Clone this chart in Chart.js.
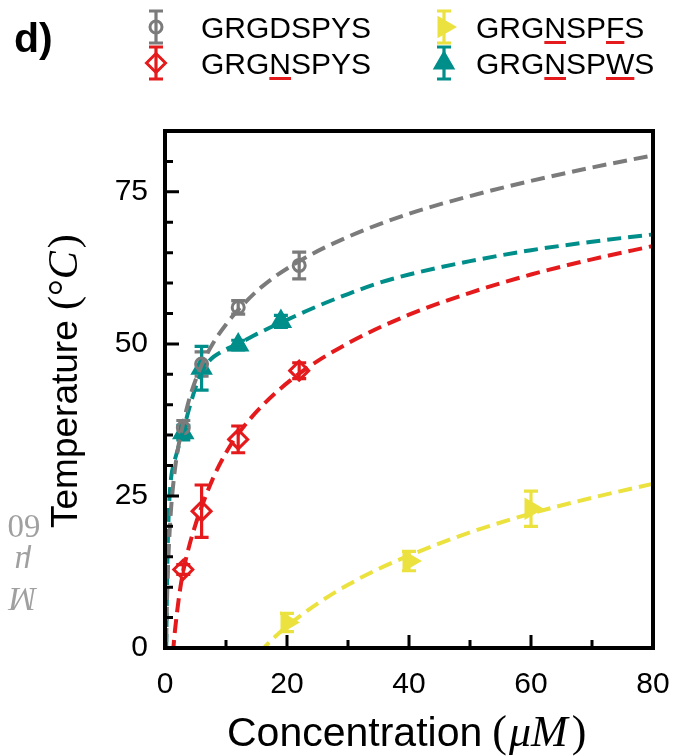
<!DOCTYPE html>
<html>
<head>
<meta charset="utf-8">
<script src="https://cdn.jsdelivr.net/npm/chart.js"></script>
<style>
  body { margin: 0; background: #fff; }
</style>
</head>
<body>
<canvas id="myChart" width="691" height="756"></canvas>
<script>
// measured points: concentration (uM), temperature (C), error bar half-height
const concGRGDSPYS = [3, 6, 12, 22];
const tempGRGDSPYS = [36.2, 46.7, 56.0, 62.9];
const errGRGDSPYS = [1.2, 2.0, 1.1, 2.2];

const concGRGNSPYS = [3, 6, 12, 22];
const tempGRGNSPYS = [12.9, 22.5, 34.3, 45.6];
const errGRGNSPYS = [0.8, 4.3, 2.2, 1.3];

const concGRGNSPFS = [20, 40, 60];
const tempGRGNSPFS = [4.2, 14.3, 22.9];
const errGRGNSPFS = [1.5, 1.6, 2.9];

const concGRGNSPWS = [3, 6, 12, 19];
const tempGRGNSPWS = [35.4, 46.0, 49.8, 53.7];
const errGRGNSPWS = [1.2, 3.6, 0.8, 1.0];

// fitted dashed curves
const fitConcGRGDSPYS = [0.2, 0.3, 0.5, 0.75, 1, 1.5, 2, 3, 4, 6, 8, 10, 12, 16, 22, 30, 40, 50, 60, 70, 80];
const fitTempGRGDSPYS = [1, 6.5, 13.5, 19, 23, 28.3, 32, 37, 41, 46.5, 50.3, 53.2, 55.6, 59.5, 63.6, 67.6, 71.4, 74.3, 76.8, 79, 81];

const fitConcGRGNSPYS = [1.3, 1.5, 2, 2.5, 3, 4, 5, 6, 8, 10, 12, 16, 22, 30, 40, 50, 60, 70, 80];
const fitTempGRGNSPYS = [-1, 1.5, 6.1, 9.8, 12.7, 16.9, 20.3, 23.2, 28.2, 32.1, 35.2, 39.9, 45.1, 50.1, 54.8, 58.4, 61.4, 63.9, 66.1];

const fitConcGRGNSPFS = [15.5, 16.2, 18, 20, 25, 30, 35, 40, 50, 60, 70, 80];
const fitTempGRGNSPFS = [-0.8, 0, 1.8, 3.6, 7.3, 10.4, 13, 15.2, 19, 22.1, 24.7, 27];

const fitConcGRGNSPWS = [0.2, 0.3, 0.45, 0.7, 1, 1.5, 2, 3, 4, 5, 6, 7, 8, 10, 12, 15, 19, 25, 30, 35, 40, 50, 60, 70, 80];
const fitTempGRGNSPWS = [0, 8, 17, 24, 28, 30.5, 32.3, 35.8, 39.5, 42.8, 45.3, 46.9, 47.9, 49.1, 50.0, 51.6, 53.5, 56.2, 58.2, 60, 61.4, 63.6, 65.4, 66.8, 68];

const xTicks = [0, 20, 40, 60, 80];
const yTicks = [0, 25, 50, 75];

const GRAY = '#7b7b7b';
const RED = '#e41a1c';
const YELLOW = '#ece23f';
const TEAL = '#008e8a';
const SANS = '"Liberation Sans", Arial, sans-serif';
const SERIF = '"Liberation Serif", "DejaVu Serif", serif';

const series = [
  { label: 'GRGDSPYS', under: [], color: GRAY, style: 'circle', rot: 0, r: 6, fill: false,
    cx: concGRGDSPYS, ty: tempGRGDSPYS, err: errGRGDSPYS, fx: fitConcGRGDSPYS, fy: fitTempGRGDSPYS },
  { label: 'GRGNSPYS', under: [3], color: RED, style: 'rectRot', rot: 0, r: 9.5, fill: false,
    cx: concGRGNSPYS, ty: tempGRGNSPYS, err: errGRGNSPYS, fx: fitConcGRGNSPYS, fy: fitTempGRGNSPYS },
  { label: 'GRGNSPFS', under: [3, 6], color: YELLOW, style: 'triangle', rot: 90, r: 10, fill: true,
    cx: concGRGNSPFS, ty: tempGRGNSPFS, err: errGRGNSPFS, fx: fitConcGRGNSPFS, fy: fitTempGRGNSPFS },
  { label: 'GRGNSPWS', under: [3, 6], color: TEAL, style: 'triangle', rot: 0, r: 10, fill: true,
    cx: concGRGNSPWS, ty: tempGRGNSPWS, err: errGRGNSPWS, fx: fitConcGRGNSPWS, fy: fitTempGRGNSPWS },
];

const pts = (xs, ys) => xs.map((v, i) => ({ x: v, y: ys[i] }));

const datasets = [];
series.forEach(s => {
  datasets.push({
    data: pts(s.fx, s.fy), showLine: true, pointRadius: 0, borderColor: s.color,
    borderWidth: 4, borderDash: [14, 7], cubicInterpolationMode: 'monotone', fill: false
  });
});
series.forEach(s => {
  datasets.push({
    data: pts(s.cx, s.ty), showLine: false, errors: s.err,
    pointStyle: s.style, rotation: s.rot, pointRadius: s.r, borderWidth: 3,
    borderColor: s.color, backgroundColor: s.fill ? s.color : 'rgba(0,0,0,0)'
  });
});

function errorBar(ctx, x, yTop, yBot, color) {
  ctx.strokeStyle = color;
  ctx.lineWidth = 3.2;
  ctx.beginPath();
  ctx.moveTo(x, yTop); ctx.lineTo(x, yBot);
  ctx.moveTo(x - 7, yTop); ctx.lineTo(x + 7, yTop);
  ctx.moveTo(x - 7, yBot); ctx.lineTo(x + 7, yBot);
  ctx.stroke();
}

const decorations = {
  id: 'decorations',
  beforeDatasetsDraw(chart) {
    const { ctx, scales: { x, y } } = chart;
    ctx.save();
    chart.data.datasets.forEach(ds => {
      if (!ds.errors) return;
      ds.data.forEach((p, j) => {
        const e = ds.errors[j];
        errorBar(ctx, x.getPixelForValue(p.x), y.getPixelForValue(p.y + e), y.getPixelForValue(p.y - e), ds.borderColor);
      });
    });
    ctx.restore();
  },
  afterDraw(chart) {
    const { ctx, chartArea: a, scales: { x, y } } = chart;
    ctx.save();
    // frame
    ctx.strokeStyle = '#000';
    ctx.lineWidth = 4;
    ctx.strokeRect(a.left, a.top, a.right - a.left, a.bottom - a.top);
    // inward ticks
    ctx.lineWidth = 3;
    ctx.beginPath();
    for (let v = 0; v <= 80; v += 10) {
      const px = x.getPixelForValue(v);
      const len = v % 20 === 0 ? 13 : 8;
      ctx.moveTo(px, a.bottom); ctx.lineTo(px, a.bottom - len);
    }
    for (let v = 0; v <= 80; v += 5) {
      const py = y.getPixelForValue(v);
      const len = v % 25 === 0 ? 14 : 8;
      ctx.moveTo(a.left, py); ctx.lineTo(a.left + len, py);
    }
    ctx.stroke();

    // x title
    ctx.fillStyle = '#000';
    ctx.textAlign = 'left';
    ctx.textBaseline = 'alphabetic';
    let cx = 227, by = 746;
    ctx.font = '41px ' + SANS;
    ctx.fillText('Concentration', cx, by);
    cx += ctx.measureText('Concentration').width + 10;
    ctx.font = '44px ' + SERIF;
    ctx.fillText('(', cx, by); cx += ctx.measureText('(').width + 2;
    ctx.font = 'italic 44px ' + SERIF;
    ctx.fillText('μM', cx, by); cx += ctx.measureText('μM').width + 4;
    ctx.font = '44px ' + SERIF;
    ctx.fillText(')', cx, by);

    // y title
    ctx.save();
    ctx.translate(77, 528);
    ctx.rotate(-Math.PI / 2);
    let ty = 0;
    ctx.font = '37px ' + SANS;
    ctx.fillText('Temperature', ty, 0);
    ty += ctx.measureText('Temperature ').width;
    ctx.font = '42px ' + SERIF;
    ctx.fillText('(', ty, 0); ty += ctx.measureText('(').width;
    ctx.fillText('°', ty, 0); ty += ctx.measureText('°').width;
    ctx.font = 'italic 42px ' + SERIF;
    ctx.fillText('C', ty, 0); ty += ctx.measureText('C').width + 3;
    ctx.font = '42px ' + SERIF;
    ctx.fillText(')', ty, 0);
    ctx.restore();

    // faint side note, glyphs upside down
    ctx.fillStyle = '#a0a0a0';
    ctx.textAlign = 'center';
    ctx.textBaseline = 'middle';
    [['60', 24, 524, ''], ['μ', 23, 561, 'italic '], ['M', 23, 597, 'italic ']].forEach(([t, px, py, st]) => {
      ctx.save();
      ctx.translate(px, py);
      ctx.rotate(Math.PI);
      ctx.font = st + '33px ' + SERIF;
      ctx.fillText(t, 0, 0);
      ctx.restore();
    });

    // panel letter
    ctx.fillStyle = '#000';
    ctx.textAlign = 'left';
    ctx.textBaseline = 'alphabetic';
    ctx.font = 'bold 41px ' + SANS;
    ctx.fillText('d)', 14, 52);

    // legend
    const spots = [[156, 201, 27], [156, 201, 63], [444, 476, 27], [444, 476, 63]];
    series.forEach((s, k) => {
      const [ix, tx, cy] = spots[k];
      errorBar(ctx, ix, cy - 16, cy + 16, s.color);
      ctx.strokeStyle = s.color;
      ctx.fillStyle = s.fill ? s.color : 'rgba(0,0,0,0)';
      ctx.lineWidth = 3;
      Chart.helpers.drawPoint(ctx, { pointStyle: s.style, rotation: s.rot, radius: s.r, borderWidth: 3 }, ix, cy);
      ctx.fillStyle = '#000';
      ctx.font = '30px ' + SANS;
      ctx.fillText(s.label, tx, cy + 11);
      ctx.fillStyle = RED;
      s.under.forEach(i => {
        const x0 = tx + ctx.measureText(s.label.slice(0, i)).width;
        const w = ctx.measureText(s.label[i]).width;
        ctx.fillRect(x0, cy + 14, w, 3);
      });
    });
    ctx.restore();
  }
};

new Chart(document.getElementById('myChart'), {
  type: 'scatter',
  data: { datasets: datasets },
  options: {
    responsive: false,
    animation: false,
    layout: { padding: { left: 0, right: 38, top: 131, bottom: 0 } },
    plugins: { legend: { display: false }, tooltip: { enabled: false } },
    scales: {
      x: {
        type: 'linear', min: 0, max: 80,
        afterFit: s => { s.height = 108; },
        afterBuildTicks: s => { s.ticks = xTicks.map(v => ({ value: v })); },
        grid: { display: false, drawTicks: false },
        border: { display: false },
        ticks: { padding: 19, color: '#000', maxRotation: 0, font: { family: SANS, size: 30 } }
      },
      y: {
        type: 'linear', min: 0, max: 85,
        afterFit: s => { s.width = 165; },
        afterBuildTicks: s => { s.ticks = yTicks.map(v => ({ value: v })); },
        grid: { display: false, drawTicks: false },
        border: { display: false },
        ticks: { padding: 17, color: '#000', font: { family: SANS, size: 30 } }
      }
    }
  },
  plugins: [decorations]
});
</script>
</body>
</html>
